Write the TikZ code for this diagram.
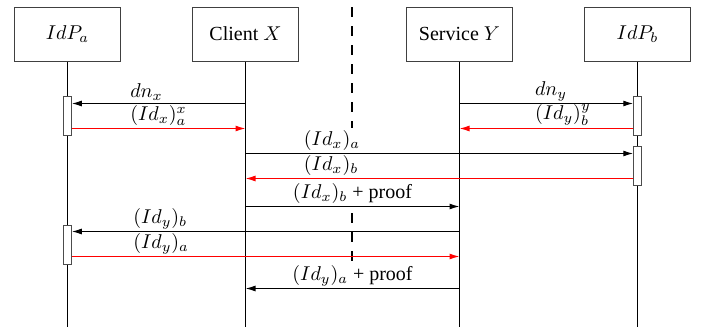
\documentclass[tikz,border=0pt]{standalone}
\usepackage{fontspec}
\setmainfont{Liberation Serif}
\usetikzlibrary{arrows.meta}
\begin{document}
\begin{tikzpicture}[x=0.5pt,y=-0.5pt,
  actor/.style={draw=black!75, line width=0.5pt, minimum width=53pt,
    minimum height=27pt, inner sep=0pt},
  life/.style={line width=0.5pt},
  act/.style={draw=black!70, fill=white, line width=0.5pt,
    minimum width=3.75pt, inner sep=0pt},
  msg/.style={line width=0.6pt, -{Latex[length=5pt,width=3pt]}},
  reply/.style={msg, draw=red, fill=red},
  lbl/.style={inner xsep=1pt, inner ysep=0pt, yshift=1pt, text=black,
    anchor=south west},
  lblc/.style={inner xsep=1pt, inner ysep=0pt, yshift=1pt, text=black,
    anchor=south},
  divider/.style={line width=1.2pt, dash pattern=on 4.75pt off 4.75pt}
]
\useasboundingbox (0,0) rectangle (702,332);

% participants
\node[actor] (pa) at (67.5,34)  {$IdP_a$};
\node[actor] (cx) at (245.5,34) {Client $X$};
\node[actor] (sy) at (459.5,34) {Service $Y$};
\node[actor] (pb) at (637.5,34) {$IdP_b$};

% lifeline ends
\coordinate (pa-end) at (67.5,327);
\coordinate (cx-end) at (245.5,327);
\coordinate (sy-end) at (459.5,327);
\coordinate (pb-end) at (637.5,327);

\draw[life] (pa.south -| pa-end) -- (pa-end);
\draw[life] (cx.south -| cx-end) -- (cx-end);
\draw[life] (sy.south -| sy-end) -- (sy-end);
\draw[life] (pb.south -| pb-end) -- (pb-end);

% trust boundary between the two domains
\coordinate (d1) at (352,7);
\coordinate (d2) at (352,128);
\coordinate (d3) at (352,213);
\coordinate (d4) at (352,262);
\draw[divider] (d1) -- (d2);
\draw[divider] (d3) -- (d4);

% activation bars
\node[act, minimum height=19.5pt]  (a1) at (67.5,115.5)   {};
\node[act, minimum height=19.5pt]  (a2) at (67.5,244.5)   {};
\node[act, minimum height=19.75pt] (b1) at (637.5,115.75) {};
\node[act, minimum height=19.75pt] (b2) at (637.5,165.75) {};

% message heights
\coordinate (y1) at (0,103.5);
\coordinate (y2) at (0,128.5);
\coordinate (y3) at (0,103.5);
\coordinate (y4) at (0,128.5);
\coordinate (y5) at (0,153.5);
\coordinate (y6) at (0,178.5);
\coordinate (y7) at (0,206.5);
\coordinate (y8) at (0,231.5);
\coordinate (y9) at (0,256.5);
\coordinate (y10) at (0,288.5);

% messages
\draw[msg]   (cx-end |- y1) -- (a1.east |- y1)
  node[lbl, pos=0.678] {$dn_x$};
\draw[reply] (a1.east |- y2) -- (cx-end |- y2)
  node[lbl, pos=0.322] {$(Id_x)_a^x$};
\draw[msg]   (sy-end |- y3) -- (b1.west |- y3)
  node[lbl, pos=0.42] {$dn_y$};
\draw[reply] (b1.west |- y4) -- (sy-end |- y4)
  node[lbl, pos=0.58] {$(Id_y)_b^y$};
\draw[msg]   (cx-end |- y5) -- (b2.west |- y5)
  node[lbl, pos=0.144] {$(Id_x)_a$};
\draw[reply] (b2.west |- y6) -- (cx-end |- y6)
  node[lbl, pos=0.856] {$(Id_x)_b$};
\draw[msg]   (cx-end |- y7) -- (sy-end |- y7)
  node[lblc, midway] {$(Id_x)_b$ + proof};
\draw[msg]   (sy-end |- y8) -- (a2.east |- y8)
  node[lbl, pos=0.848] {$(Id_y)_b$};
\draw[reply] (a2.east |- y9) -- (sy-end |- y9)
  node[lbl, pos=0.152] {$(Id_y)_a$};
\draw[msg]   (sy-end |- y10) -- (cx-end |- y10)
  node[lblc, midway] {$(Id_y)_a$ + proof};
\end{tikzpicture}
\end{document}
